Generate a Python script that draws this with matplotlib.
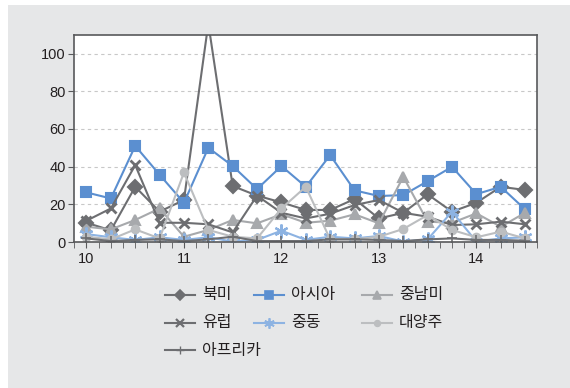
import matplotlib.pyplot as plt
import numpy as np
from matplotlib.patches import Rectangle
from matplotlib.lines import Line2D
from matplotlib.ticker import MultipleLocator

plt.rcParams['font.family'] = ['Noto Sans CJK KR', 'DejaVu Sans']

# quarters from 10 to 14.5
x = [10, 10.25, 10.5, 10.75, 11, 11.25, 11.5, 11.75, 12, 12.25,
     12.5, 12.75, 13, 13.25, 13.5, 13.75, 14, 14.25, 14.5]

north_america = [10.2, 6.2, 29.3, 16.1, 22.3, 116, 29.7, 24.6, 21.0, 17.0,
                 17.0, 22.8, 12.5, 15.5, 25.3, 16.1, 20.8, 29.3, 27.6]
asia = [26.3, 23.1, 51.0, 35.7, 20.8, 50.0, 40.3, 28.1, 40.3, 29.3,
        46.1, 27.4, 24.4, 24.9, 32.3, 39.9, 25.4, 29.3, 17.3]
latin_america = [8.1, 6.7, 11.7, 17.8, 2.8, 6.4, 11.7, 9.9, 14.7, 10.2,
                 11.3, 14.7, 9.9, 34.6, 10.8, 10.2, 15.2, 8.1, 15.5]
europe = [11.3, 17.8, 40.8, 10.2, 10.2, 9.4, 5.1, 24.6, 15.5, 12.5,
          15.0, 19.6, 22.3, 15.5, 13.4, 9.0, 9.4, 10.8, 9.4]
middle_east = [4.2, 2.5, 1.1, 2.5, 1.1, 2.5, 0.2, 1.1, 6.0, 1.1,
               2.8, 1.9, 3.2, 0.2, 1.4, 16.1, 0.2, 1.9, 2.5]
oceania = [2.8, 1.4, 6.7, 1.9, 36.9, 6.4, 2.8, 1.9, 17.8, 29.3,
           1.4, 1.4, 2.8, 6.9, 14.3, 6.4, 2.5, 5.5, 1.9]
africa = [1.9, 0.5, 1.1, 1.4, 0.5, 1.4, 2.8, 0.5, 0.5, 0.5,
          1.4, 1.4, 1.1, 0.5, 1.4, 1.9, 1.1, 1.1, 0.7]

dark = '#6d6e71'
blue = '#5b8fd0'
mid = '#a7a9ac'
lightblue = '#8db3e2'
light = '#bcbec0'

series = [
    ('북미', north_america, dark, 'D', 7, 1.5),
    ('아시아', asia, blue, 's', 7, 1.5),
    ('중남미', latin_america, mid, '^', 7, 1.5),
    ('유럽', europe, dark, 'x', 7, 2.0),
    ('중동', middle_east, lightblue, (6, 2, 0), 10, 1.6),
    ('대양주', oceania, light, 'o', 5.5, 1.5),
    ('아프리카', africa, dark, '+', 7, 1.2),
]

W, H = 570, 388
fig = plt.figure(figsize=(W / 100, H / 100), dpi=100)
fig.patch.set_facecolor('white')
fig.patches.append(Rectangle((8 / W, 0), 1, 1 - 5 / H, transform=fig.transFigure,
                             facecolor='#e6e7e8', edgecolor='none', zorder=-10))

ax = fig.add_axes([74.3 / W, 1 - 242 / H, (537.3 - 74.3) / W, (242 - 34.7) / H])
ax.set_facecolor('white')

for name, vals, color, marker, ms, mew in series:
    ax.plot(x, vals, color=color, lw=1.5, marker=marker, markersize=ms,
            markeredgewidth=mew, markeredgecolor=color, label=name)

ax.set_xlim(9.875, 14.625)
ax.set_ylim(0, 110)
ax.set_xticks([10, 11, 12, 13, 14])
ax.xaxis.set_minor_locator(MultipleLocator(0.125))
ax.set_yticks(range(0, 101, 20))
ax.grid(axis='y', color='#c8c8c8', linestyle=(0, (3, 3)), linewidth=0.8)
ax.set_axisbelow(True)

for s in ax.spines.values():
    s.set_color('#58595b')
    s.set_linewidth(1.2)
ax.tick_params(axis='both', which='both', direction='out', color='#58595b',
               labelsize=10.5, labelcolor='#231f20')
ax.tick_params(axis='x', which='both', length=4, pad=3)
ax.tick_params(axis='y', length=4, pad=2)
for lab in ax.get_xticklabels() + ax.get_yticklabels():
    lab.set_family(['Liberation Sans', 'DejaVu Sans'])

# legend laid out row by row, three entries per row
col_x = [165, 254, 362]
row_y = [295, 323, 350]
for i, (name, vals, color, marker, ms, mew) in enumerate(series):
    cx = col_x[i % 3]
    cy = row_y[i // 3]
    fig.add_artist(Line2D([cx / W, (cx + 30) / W], [1 - cy / H, 1 - cy / H],
                          transform=fig.transFigure, color=color, lw=1.5))
    fig.add_artist(Line2D([(cx + 15) / W], [1 - cy / H], transform=fig.transFigure,
                          color=color, marker=marker, markersize=ms * 0.75,
                          markeredgewidth=mew * 0.8, markeredgecolor=color))
    fig.text((cx + 37) / W, 1 - cy / H, name, fontsize=11.5, color='#231f20',
             ha='left', va='center')

fig.savefig('out.png', dpi=100)
